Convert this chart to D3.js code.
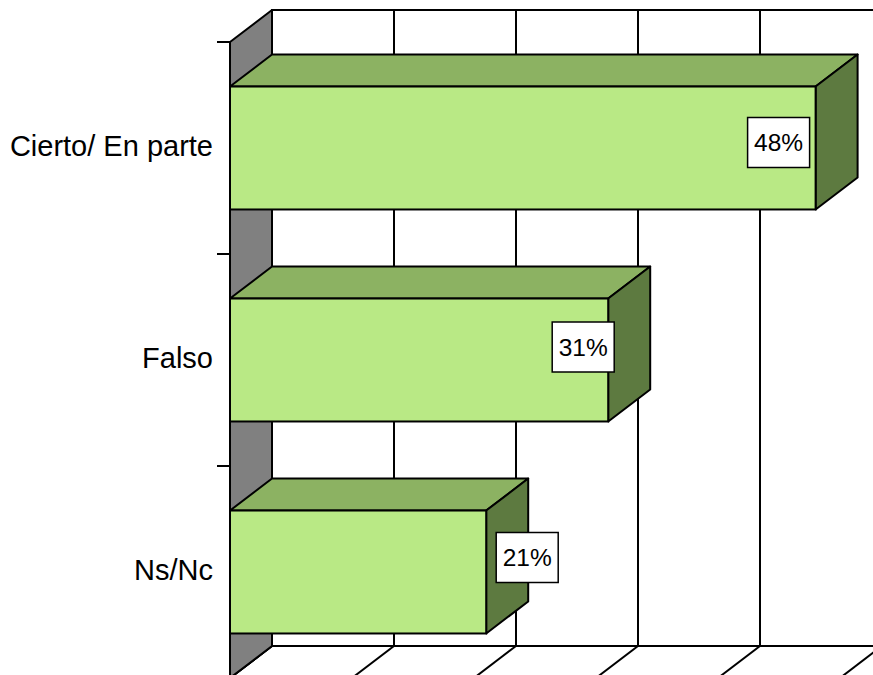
<!DOCTYPE html>
<html>
<head>
<meta charset="utf-8">
<script src="https://cdn.jsdelivr.net/npm/d3@7"></script>
<style>
  body { margin: 0; background: #fff; }
  svg { display: block; }
</style>
</head>
<body>
<script>
// data
var categories = ["Cierto/ En parte", "Falso", "Ns/Nc"];
var values = [0.48, 0.31, 0.21];
var valueLabels = ["48%", "31%", "21%"];
var gridTicks = [0, 0.1, 0.2, 0.3, 0.4, 0.5, 0.6];

var w = 873, h = 675;
var depthX = 42, depthY = -32;   // 3d offset front -> back
var plotLeft = 230, plotTop = 42, plotBottom = 678;

var svg = d3.select("body").append("svg")
    .attr("width", w)
    .attr("height", h);

var x = d3.scaleLinear().domain([0, 0.6]).range([plotLeft, plotLeft + 732]);
var y = d3.scaleBand().domain(categories).range([plotTop, plotBottom])
    .paddingInner(0.42).paddingOuter(0.21);

var ink = "#000";
var sw = 2;

// back wall
svg.append("rect")
   .attr("x", x(0) + depthX)
   .attr("y", plotTop + depthY)
   .attr("width", x(0.6) - x(0))
   .attr("height", plotBottom - plotTop)
   .attr("fill", "#fff")
   .attr("stroke", ink)
   .attr("stroke-width", sw);

// gridlines on the back wall
svg.selectAll("line.grid")
   .data(gridTicks)
   .enter()
   .append("line")
   .attr("class", "grid")
   .attr("x1", function(d) { return x(d) + depthX; })
   .attr("x2", function(d) { return x(d) + depthX; })
   .attr("y1", plotTop + depthY)
   .attr("y2", plotBottom + depthY)
   .attr("stroke", ink)
   .attr("stroke-width", sw);

// floor
svg.append("polygon")
   .attr("points", [
      [x(0), plotBottom], [x(0) + depthX, plotBottom + depthY],
      [x(0.6) + depthX, plotBottom + depthY], [x(0.6), plotBottom]
   ].join(" "))
   .attr("fill", "#fff")
   .attr("stroke", ink)
   .attr("stroke-width", sw);

svg.selectAll("line.floor")
   .data(gridTicks)
   .enter()
   .append("line")
   .attr("class", "floor")
   .attr("x1", function(d) { return x(d) + depthX; })
   .attr("x2", function(d) { return x(d); })
   .attr("y1", plotBottom + depthY)
   .attr("y2", plotBottom)
   .attr("stroke", ink)
   .attr("stroke-width", sw);

// side wall
svg.append("polygon")
   .attr("points", [
      [x(0), plotTop], [x(0) + depthX, plotTop + depthY],
      [x(0) + depthX, plotBottom + depthY], [x(0), plotBottom]
   ].join(" "))
   .attr("fill", "#808080")
   .attr("stroke", ink)
   .attr("stroke-width", sw)
   .attr("stroke-linejoin", "round");

// category axis ticks (band boundaries)
var tickYs = [plotTop].concat(categories.map(function(c, i) { return plotTop + y.step() * (i + 1); }));
svg.selectAll("line.tick")
   .data(tickYs)
   .enter()
   .append("line")
   .attr("class", "tick")
   .attr("x1", x(0) - 13)
   .attr("x2", x(0))
   .attr("y1", function(d) { return d; })
   .attr("y2", function(d) { return d; })
   .attr("stroke", ink)
   .attr("stroke-width", sw);

svg.append("line")
   .attr("x1", x(0)).attr("x2", x(0))
   .attr("y1", plotTop).attr("y2", plotBottom)
   .attr("stroke", ink)
   .attr("stroke-width", sw);

// bars
var bars = svg.selectAll("g.bar")
   .data(values)
   .enter()
   .append("g")
   .attr("class", "bar");

function barTopFace(d, i) {
  var y0 = y(categories[i]), x1 = x(d);
  return [[x(0), y0], [x(0) + depthX, y0 + depthY], [x1 + depthX, y0 + depthY], [x1, y0]].join(" ");
}
function barSideFace(d, i) {
  var y0 = y(categories[i]), y1 = y0 + y.bandwidth(), x1 = x(d);
  return [[x1, y0], [x1 + depthX, y0 + depthY], [x1 + depthX, y1 + depthY], [x1, y1]].join(" ");
}

bars.append("polygon")
   .attr("points", barTopFace)
   .attr("fill", "#8cb262")
   .attr("stroke", ink)
   .attr("stroke-width", sw)
   .attr("stroke-linejoin", "round");

bars.append("polygon")
   .attr("points", barSideFace)
   .attr("fill", "#5d7a40")
   .attr("stroke", ink)
   .attr("stroke-width", sw)
   .attr("stroke-linejoin", "round");

bars.append("rect")
   .attr("x", x(0))
   .attr("y", function(d, i) { return y(categories[i]); })
   .attr("width", function(d) { return x(d) - x(0); })
   .attr("height", y.bandwidth())
   .attr("fill", "#b9e985")
   .attr("stroke", ink)
   .attr("stroke-width", sw);

// value labels (boxes)
var labelShift = [[-37, -5.5], [-25, -13], [41, -14.5]];
var boxW = 62, boxH = 50;

var lab = svg.selectAll("g.lab")
   .data(values)
   .enter()
   .append("g")
   .attr("class", "lab")
   .attr("transform", function(d, i) {
      var cx = x(d) + labelShift[i][0];
      var cy = y(categories[i]) + y.bandwidth() / 2 + labelShift[i][1];
      return "translate(" + cx + "," + cy + ")";
   });

lab.append("rect")
   .attr("x", -boxW / 2)
   .attr("y", -boxH / 2)
   .attr("width", boxW)
   .attr("height", boxH)
   .attr("fill", "#fff")
   .attr("stroke", ink)
   .attr("stroke-width", 1.5);

lab.append("text")
   .text(function(d, i) { return valueLabels[i]; })
   .attr("text-anchor", "middle")
   .attr("dy", "0.35em")
   .attr("font-family", "Liberation Sans, Arial, sans-serif")
   .attr("font-size", "24.5px")
   .attr("fill", ink);

// category labels
svg.selectAll("text.cat")
   .data(categories)
   .enter()
   .append("text")
   .attr("class", "cat")
   .text(function(d) { return d; })
   .attr("text-anchor", "end")
   .attr("x", 213)
   .attr("y", function(d) { return y(d) + y.bandwidth() / 2 - 2; })
   .attr("dy", "0.35em")
   .attr("font-family", "Liberation Sans, Arial, sans-serif")
   .attr("font-size", "29px")
   .attr("fill", ink);
</script>
</body>
</html>
